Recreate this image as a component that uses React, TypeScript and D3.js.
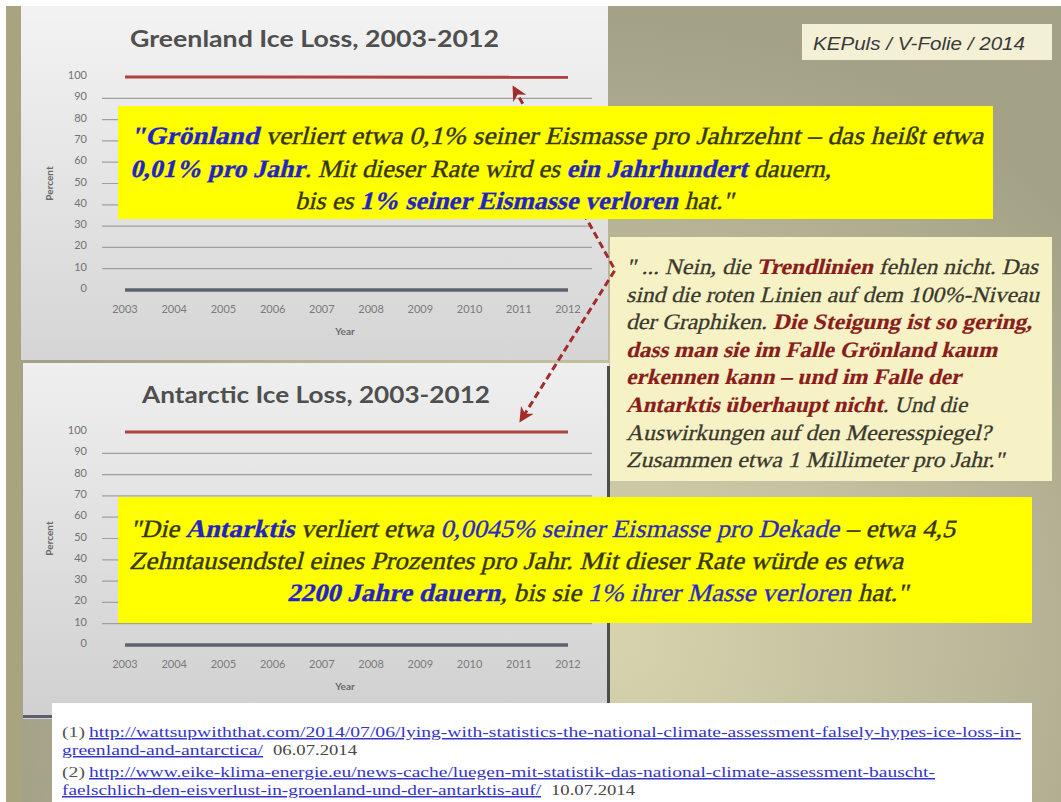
import React from "react";
import * as d3 from "d3";

// chart values (percent of ice mass remaining)
const years = [2003, 2004, 2005, 2006, 2007, 2008, 2009, 2010, 2011, 2012];
const percentTicks = [0, 10, 20, 30, 40, 50, 60, 70, 80, 90, 100];
const greenlandRemaining = [100, 99.99, 99.98, 99.97, 99.96, 99.95, 99.94, 99.93, 99.92, 99.91];
const greenlandTrend = [100, 99.9];
const antarcticRemaining = [100, 100, 100, 99.999, 99.998, 99.998, 99.997, 99.997, 99.996, 99.996];
const antarcticTrend = [100, 99.996];
const lostPercent = [0, 0, 0, 0, 0, 0, 0, 0, 0, 0];

const W = 1061;
const H = 802;

const SERIF = "'Liberation Serif', 'Times New Roman', serif";
const SANS = "Lato, 'Open Sans', sans-serif";

type Seg = [string, string];

const boxStyles: Record<string, any> = {
  d: { fill: "#363608", stroke: "#363608", strokeWidth: 0.4 },
  b: { fill: "#2424c4", stroke: "#2424c4", strokeWidth: 0.3, fontWeight: "bold" },
  l: { fill: "#2a2ac4", stroke: "#2a2ac4", strokeWidth: 0.3 },
};
const noteStyles: Record<string, any> = {
  d: { fill: "#3a382c", stroke: "#3a382c", strokeWidth: 0.3 },
  r: { fill: "#8a1c1c", stroke: "#8a1c1c", strokeWidth: 0.2, fontWeight: "bold" },
};

const greenlandQuote: Seg[][] = [
  [["b", "\"Grönland"], ["d", " verliert etwa 0,1% seiner Eismasse pro Jahrzehnt – das heißt etwa"]],
  [["b", "0,01% pro Jahr"], ["d", ". Mit dieser Rate wird es "], ["b", "ein Jahrhundert"], ["d", " dauern,"]],
  [["d", "bis es "], ["b", "1% seiner Eismasse verloren"], ["d", " hat.\""]],
];
const antarcticQuote: Seg[][] = [
  [["d", "\"Die "], ["b", "Antarktis"], ["d", " verliert etwa "], ["l", "0,0045% seiner Eismasse pro Dekade"], ["d", " – etwa 4,5"]],
  [["d", "Zehntausendstel eines Prozentes pro Jahr. Mit dieser Rate würde es etwa"]],
  [["b", "2200 Jahre dauern"], ["d", ", bis sie "], ["l", "1% ihrer Masse verloren"], ["d", " hat.\""]],
];
const noteLines: Seg[][] = [
  [["d", "\" ... Nein, die "], ["r", "Trendlinien"], ["d", " fehlen nicht. Das"]],
  [["d", "sind die roten Linien auf dem 100%-Niveau"]],
  [["d", "der Graphiken. "], ["r", "Die Steigung ist so gering,"]],
  [["r", "dass man sie im Falle Grönland kaum"]],
  [["r", "erkennen kann – und im Falle der"]],
  [["r", "Antarktis überhaupt nicht"], ["d", ". Und die"]],
  [["d", "Auswirkungen auf den Meeresspiegel?"]],
  [["d", "Zusammen etwa 1 Millimeter pro Jahr.\""]],
];

// serif italic drawn as a slanted Liberation Serif (no italic face in the sandbox)
function RichLine({ x, y, segs, size, len, styles }: any) {
  return (
    <text
      transform={`translate(${x},${y}) skewX(-14)`}
      fontSize={size}
      fontFamily={SERIF}
      textLength={len}
      lengthAdjust="spacingAndGlyphs"
      style={{ whiteSpace: "pre" }}
    >
      {segs.map(([k, t]: Seg, i: number) => (
        <tspan key={i} {...styles[k]}>
          {t}
        </tspan>
      ))}
    </text>
  );
}

function Chart({ title, titleX, titleY, titleLen, yTop, yZero, remaining, trend }: any) {
  const x = d3.scalePoint<number>().domain(years).range([125, 568]);
  const y = d3.scaleLinear().domain([0, 100]).range([yZero, yTop]);
  const line = d3
    .line<number>()
    .x((_, i) => x(years[i]) as number)
    .y((d) => y(d));
  const trendLine = d3
    .line<number>()
    .x((_, i) => x(i === 0 ? years[0] : years[years.length - 1]) as number)
    .y((d) => y(d));
  return (
    <g>
      <text
        x={titleX}
        y={titleY}
        fontFamily={SANS}
        fontWeight="bold"
        fontSize={23}
        fill="#4f4f4f"
        textLength={titleLen}
        lengthAdjust="spacingAndGlyphs"
      >
        {title}
      </text>
      {percentTicks.map((t) => (
        <g key={t}>
          {t > 0 && t < 100 && (
            <line x1={102} x2={592} y1={y(t)} y2={y(t)} stroke="#a0a0a0" strokeWidth={1.2} />
          )}
          <text
            x={87}
            y={y(t) + 2}
            textAnchor="end"
            fontFamily={SANS}
            fontSize={11}
            fill="#727272"
          >
            {t}
          </text>
        </g>
      ))}
      <path d={line(lostPercent) || ""} fill="none" stroke="#5f636f" strokeWidth={3.5} />
      <path d={line(remaining) || ""} fill="none" stroke="#5a6fb0" strokeWidth={2} />
      <path d={trendLine(trend) || ""} fill="none" stroke="#b0413f" strokeWidth={3} />
      {years.map((yr) => (
        <text
          key={yr}
          x={x(yr)}
          y={yZero + 23}
          textAnchor="middle"
          fontFamily={SANS}
          fontSize={11}
          fill="#7a7a7a"
        >
          {yr}
        </text>
      ))}
      <text
        x={345}
        y={yZero + 45}
        textAnchor="middle"
        fontFamily={SANS}
        fontWeight="bold"
        fontSize={10}
        fill="#6a6a6a"
      >
        Year
      </text>
      <text
        transform={`translate(${53},${(yZero + yTop) / 2}) rotate(-90)`}
        textAnchor="middle"
        fontFamily={SANS}
        fontWeight="bold"
        fontSize={10}
        fill="#6a6a6a"
      >
        Percent
      </text>
    </g>
  );
}

export default function App() {
  return (
    <>
      <style>{"body{margin:0}"}</style>
      <svg width={W} height={H} style={{ display: "block" }}>
        <defs>
          <radialGradient id="bg" cx="620" cy="640" r="620" gradientUnits="userSpaceOnUse">
            <stop offset="0" stopColor="#d7d3ad" />
            <stop offset="0.55" stopColor="#bdba9c" />
            <stop offset="1" stopColor="#a3a186" />
          </radialGradient>
          <linearGradient id="panel1" x1="0" y1="0" x2="0" y2="1">
            <stop offset="0" stopColor="#f3f3f3" />
            <stop offset="1" stopColor="#d5d5d5" />
          </linearGradient>
          <linearGradient id="panel2" x1="0" y1="0" x2="0" y2="1">
            <stop offset="0" stopColor="#efefef" />
            <stop offset="1" stopColor="#d0d0d0" />
          </linearGradient>
          <marker
            id="head"
            viewBox="0 0 10 10"
            refX="8"
            refY="5"
            markerWidth="5"
            markerHeight="5"
            orient="auto-start-reverse"
          >
            <path d="M0,0 L10,5 L0,10 L3,5 Z" fill="#a32b2a" />
          </marker>
        </defs>

        <rect width={W} height={H} fill="#ffffff" />
        <rect x={6} y={6} width={W - 6} height={H - 6} fill="url(#bg)" />
        <rect x={6} y={6} width={15} height={H - 6} fill="#a7a47f" />

        <KEPuls />

        {/* chart panels */}
        <rect x={21} y={6} width={587} height={354} fill="url(#panel1)" />
        <rect x={23} y={363} width={586} height={356} fill="url(#panel2)" />
        <rect x={607} y={366} width={3} height={340} fill="#4e4e4e" />
        <rect x={23} y={715} width={30} height={3} fill="#5a5e70" />

        <Chart
          title="Greenland Ice Loss, 2003-2012"
          titleX={130}
          titleY={47}
          titleLen={369}
          yTop={77}
          yZero={290}
          remaining={greenlandRemaining}
          trend={greenlandTrend}
        />
        <Chart
          title="Antarctic Ice Loss, 2003-2012"
          titleX={142}
          titleY={403}
          titleLen={348}
          yTop={432}
          yZero={645}
          remaining={antarcticRemaining}
          trend={antarcticTrend}
        />

        {/* comment box */}
        <rect x={610} y={237} width={442} height={244} fill="#f6f2c5" />
        {noteLines.map((segs, i) => {
          const lens = [412, 413, 406, 371, 335, 341, 365, 378];
          return (
            <RichLine
              key={i}
              x={626}
              y={274 + i * 27.6}
              segs={segs}
              size={22}
              len={lens[i]}
              styles={noteStyles}
            />
          );
        })}

        {/* dashed arrows */}
        <polyline
          points="514,88 615,270 521,420"
          fill="none"
          stroke="#a32b2a"
          strokeWidth={3}
          strokeDasharray="7 4"
          markerStart="url(#head)"
          markerEnd="url(#head)"
        />

        {/* quote boxes */}
        <rect x={118} y={106} width={875} height={113} fill="#ffff00" />
        {greenlandQuote.map((segs, i) => {
          const xs = [130, 130, 295];
          const lens = [853, 701, 438];
          return (
            <RichLine
              key={i}
              x={xs[i]}
              y={144 + i * 32.5}
              segs={segs}
              size={25}
              len={lens[i]}
              styles={boxStyles}
            />
          );
        })}

        <rect x={118} y={497} width={914} height={126} fill="#ffff00" />
        {antarcticQuote.map((segs, i) => {
          const xs = [130, 129, 287];
          const lens = [825, 774, 621];
          return (
            <RichLine
              key={i}
              x={xs[i]}
              y={537 + i * 32}
              segs={segs}
              size={25}
              len={lens[i]}
              styles={boxStyles}
            />
          );
        })}

        <References />
      </svg>
    </>
  );
}

function KEPuls() {
  return (
    <g>
      <rect x={802} y={24} width={250} height={36} fill="#f3f0d6" />
      <text
        x={813}
        y={50}
        fontFamily="'Liberation Sans', Arial, sans-serif"
        fontStyle="italic"
        fontSize={19}
        fill="#3a3a3a"
        textLength={212}
        lengthAdjust="spacingAndGlyphs"
      >
        KEPuls / V-Folie / 2014
      </text>
    </g>
  );
}

const refLines = [
  { y: 737, pre: "(1)", link: "http://wattsupwiththat.com/2014/07/06/lying-with-statistics-the-national-climate-assessment-falsely-hypes-ice-loss-in-", linkLen: 932, post: "" },
  { y: 755, pre: "", link: "greenland-and-antarctica/", linkLen: 201, post: "06.07.2014" },
  { y: 777, pre: "(2)", link: "http://www.eike-klima-energie.eu/news-cache/luegen-mit-statistik-das-national-climate-assessment-bauscht-", linkLen: 846, post: "" },
  { y: 795, pre: "", link: "faelschlich-den-eisverlust-in-groenland-und-der-antarktis-auf/", linkLen: 479, post: "10.07.2014" },
];

function References() {
  return (
    <g fontFamily={SERIF} fontSize={15}>
      <rect x={52} y={703} width={980} height={H - 703} fill="#ffffff" />
      {refLines.map((r, i) => {
        const linkX = r.pre ? 89 : 62;
        return (
          <g key={i}>
            {r.pre && (
              <text x={62} y={r.y} fill="#555" textLength={23} lengthAdjust="spacingAndGlyphs">
                {r.pre}
              </text>
            )}
            <text
              x={linkX}
              y={r.y}
              fill="#3535c8"
              textDecoration="underline"
              textLength={r.linkLen}
              lengthAdjust="spacingAndGlyphs"
            >
              {r.link}
            </text>
            {r.post && (
              <text
                x={linkX + r.linkLen + 10}
                y={r.y}
                fill="#474747"
                textLength={84}
                lengthAdjust="spacingAndGlyphs"
              >
                {r.post}
              </text>
            )}
          </g>
        );
      })}
    </g>
  );
}
